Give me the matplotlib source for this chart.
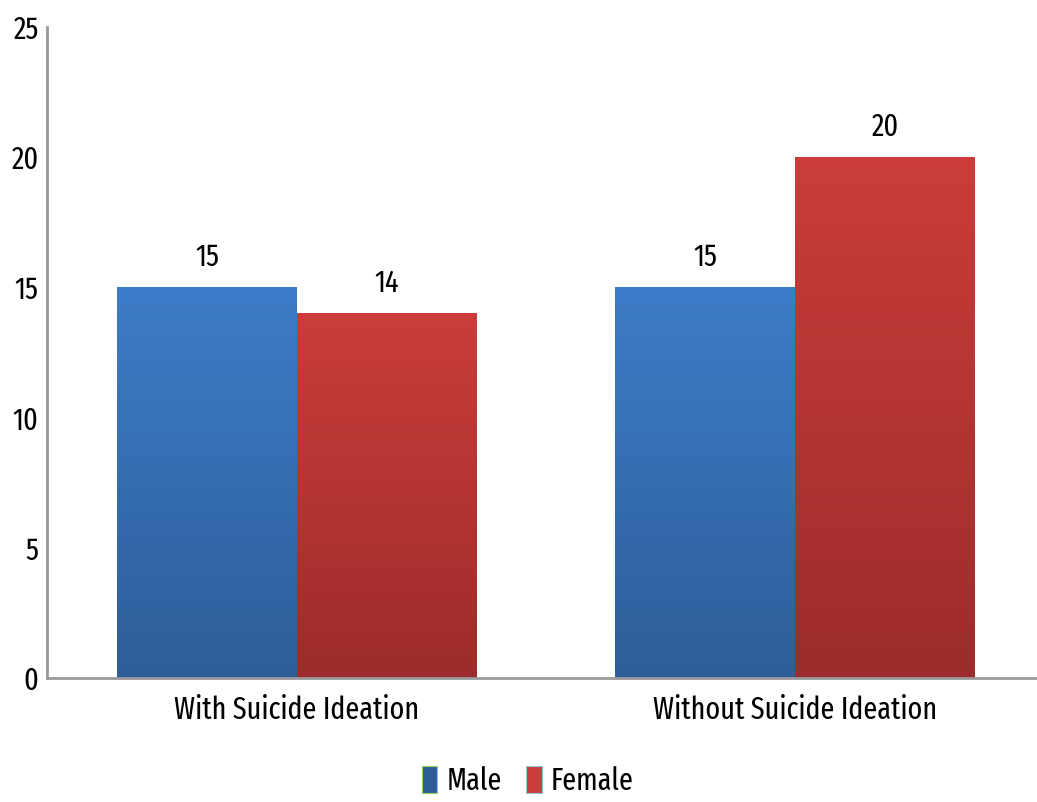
import numpy as np
import matplotlib.pyplot as plt
from matplotlib.colors import LinearSegmentedColormap
from matplotlib.patches import Patch

categories = ["With Suicide Ideation", "Without Suicide Ideation"]
male = [15, 15]
female = [14, 20]

plt.rcParams['font.family'] = ['Fira Sans Extra Condensed', 'DejaVu Sans']
FS = 22

fig = plt.figure(figsize=(10.37, 8.02), dpi=100)
ax = fig.add_axes([0.0453, 0.1546, 0.9547, 0.8117])

x = np.arange(len(categories))
width = 0.3614

# gradient colours: top -> bottom
male_cols = ("#3D7CC9", "#2D5E98")
female_cols = ("#CA3D3A", "#9C2C2B")


def gradient_bars(bars, cols):
    cmap = LinearSegmentedColormap.from_list("g", [cols[1], cols[0]])
    grad = np.linspace(0, 1, 256).reshape(-1, 1)
    for b in bars:
        x0, y0 = b.get_x(), b.get_y()
        w, h = b.get_width(), b.get_height()
        im = ax.imshow(grad, cmap=cmap, aspect="auto", origin="lower",
                       extent=[x0, x0 + w, y0, y0 + h], zorder=2)
        im.set_clip_path(b)
        b.set_facecolor("none")


b1 = ax.bar(x - width / 2, male, width, color=male_cols[0], zorder=2, linewidth=0)
b2 = ax.bar(x + width / 2, female, width, color=female_cols[0], zorder=2, linewidth=0)
gradient_bars(b1, male_cols)
gradient_bars(b2, female_cols)

for bars in (b1, b2):
    for b in bars:
        ax.annotate(f"{b.get_height():g}", (b.get_x() + b.get_width() / 2, b.get_height()),
                    xytext=(0, 11), textcoords="offset points", ha="center", va="bottom",
                    fontsize=FS)

ax.set_xlim(-0.502, 1.486)
ax.set_ylim(0, 25)
ax.set_yticks(range(0, 26, 5))
ax.set_xticks(x)
ax.set_xticklabels(categories, fontsize=FS)
ax.tick_params(axis="both", length=0, labelsize=FS)
ax.tick_params(axis="y", pad=6)
ax.tick_params(axis="x", pad=12)

for s in ("top", "right"):
    ax.spines[s].set_visible(False)
for s in ("left", "bottom"):
    ax.spines[s].set_color("#999999")
    ax.spines[s].set_linewidth(2)

handles = [Patch(facecolor=male_cols[1], edgecolor="#9ACD60", linewidth=0.8),
           Patch(facecolor=female_cols[0], edgecolor="#8CC7D8", linewidth=0.8)]
fig.legend(handles, ["Male", "Female"], loc="lower center", bbox_to_anchor=(0.509, -0.027),
           ncol=2, frameon=False, fontsize=FS, handlelength=0.5, handleheight=1.0,
           handletextpad=0.3, columnspacing=0.8)

fig.savefig("out.png", dpi=100)
